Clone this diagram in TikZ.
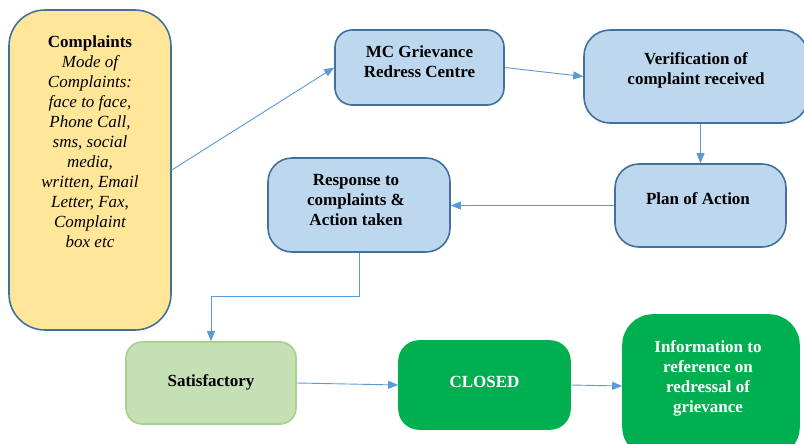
\documentclass[tikz,border=0pt]{standalone}
\usepackage{fontspec}
\setmainfont{LiberationSerif}[Extension=.ttf, UprightFont=*-Regular, BoldFont=*-Bold, ItalicFont=*-Italic, BoldItalicFont=*-BoldItalic]
\usetikzlibrary{arrows.meta}
\definecolor{bluefill}{HTML}{BDD7EE}
\definecolor{blueedge}{HTML}{41719C}
\definecolor{yellowfill}{HTML}{FFE699}
\definecolor{lightgreen}{HTML}{C5E0B4}
\definecolor{lightgreenedge}{HTML}{A9D18E}
\definecolor{darkgreen}{HTML}{00B050}
\definecolor{linkblue}{HTML}{5B9BD5}
\tikzset{
  box/.style={rectangle, draw=blueedge, line width=1.6pt, fill=bluefill, inner sep=0pt},
  txt/.style={align=center, font=\rmfamily\fontsize{17}{20}\selectfont\bfseries, inner sep=0pt},
  link/.style={draw=linkblue, line width=0.9pt, -{Triangle[length=10pt,width=8pt]}}
}
\newcommand{\modeline}{\mdseries\itshape}
\begin{document}
\begin{tikzpicture}[x=1pt,y=-1pt]
\useasboundingbox (0,0) rectangle (804,444);
\clip (0,0) rectangle (804,444);

% boxes
\node (cmp) [box, fill=yellowfill, rounded corners=36pt, minimum width=162pt, minimum height=320pt] at (90,170) {};
\node (mc) [box, rounded corners=17pt, minimum width=169pt, minimum height=75pt] at (419.5,67.5) {};
\node (ver) [box, rounded corners=26pt, minimum width=224pt, minimum height=93pt] at (696,76.5) {};
\node (plan) [box, rounded corners=24pt, minimum width=171pt, minimum height=83pt] at (700.5,205.5) {};
\node (resp) [box, rounded corners=24pt, minimum width=182pt, minimum height=94pt] at (359,205) {};
\node (sat) [box, fill=lightgreen, draw=lightgreenedge, rounded corners=16pt, minimum width=170pt, minimum height=82pt] at (211,383) {};
\node (cls) [box, fill=darkgreen, draw=darkgreen, rounded corners=20pt, minimum width=171pt, minimum height=88pt] at (484.5,385) {};
\node (inf) [box, fill=darkgreen, draw=darkgreen, rounded corners=30pt, minimum width=176pt, minimum height=142pt] at (711,386) {};

% texts
\node (cmp-t) [txt] at (90,142) {Complaints\\ \modeline Mode of\\ \modeline Complaints:\\ \modeline face to face,\\ \modeline Phone Call,\\ \modeline sms, social\\ \modeline media,\\ \modeline written, Email\\ \modeline Letter, Fax,\\ \modeline Complaint\\ \modeline box etc};
\node (mc-t) [txt] at (419.5,62) {MC Grievance\\Redress Centre};
\node (ver-t) [txt] at (696,70) {Verification of\\complaint received};
\node (plan-t) [txt] at (698,199) {Plan of Action};
\node (resp-t) [txt] at (356,200.5) {Response to\\complaints \&\\Action taken};
\node (sat-t) [txt] at (211,382) {Satisfactory};
\node (cls-t) [txt, text=white] at (484.5,382) {CLOSED};
\node (inf-t) [txt, text=white] at (708,378.5) {Information to\\reference on\\redressal of\\grievance};

% connectors
\draw[link] (cmp.east) -- (mc.west);
\draw[link] (mc.east) -- (ver.west);
\draw[link] (ver.south -| plan.north) -- (plan.north);
\draw[link] (plan.west) -- (plan.west -| resp.east);
\draw[link] (resp.south) -- ++(0,44) -| (sat.north);
\draw[link] (sat.east) -- (cls.west);
\draw[link] (cls.east) -- (inf.west);
\end{tikzpicture}
\end{document}
